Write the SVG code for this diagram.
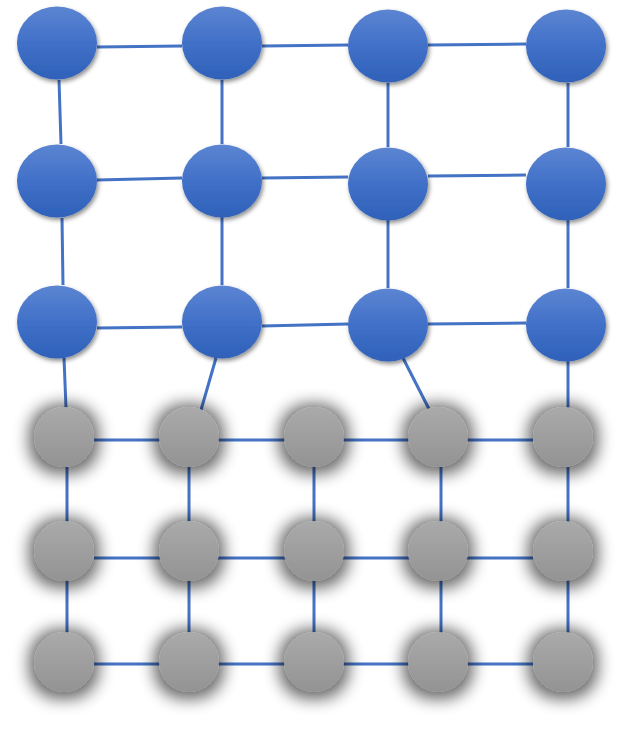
<svg xmlns="http://www.w3.org/2000/svg" width="627" height="729" viewBox="0 0 627 729">
<style>
.c{stroke:#4472c4;stroke-width:3;fill:none}
.b{fill:url(#gb);filter:url(#sb)}
.g{fill:url(#gg);filter:url(#sg)}
</style>
<defs>
<linearGradient id="gb" x1="0" y1="0" x2="0" y2="1">
<stop offset="0" stop-color="#5c85d2"/>
<stop offset="0.5" stop-color="#4170c8"/>
<stop offset="1" stop-color="#2f61b9"/>
</linearGradient>
<linearGradient id="gg" x1="0" y1="0" x2="0" y2="1">
<stop offset="0" stop-color="#aaaaaa"/>
<stop offset="1" stop-color="#939393"/>
</linearGradient>
<filter id="sb" x="-30%" y="-30%" width="160%" height="160%">
<feDropShadow dx="1.5" dy="2.5" stdDeviation="2" flood-color="#000" flood-opacity="0.45"/>
</filter>
<filter id="sg" x="-80%" y="-80%" width="260%" height="260%">
<feMorphology in="SourceAlpha" operator="dilate" radius="5" result="d"/>
<feGaussianBlur in="d" stdDeviation="8" result="bl"/>
<feOffset in="bl" dx="0" dy="2" result="o"/>
<feComponentTransfer in="o" result="s"><feFuncA type="linear" slope="0.6"/></feComponentTransfer>
<feMerge><feMergeNode in="s"/><feMergeNode in="SourceGraphic"/></feMerge>
</filter>
</defs>
<g id="connectors">
<line class="c" x1="97" y1="47" x2="182" y2="46"/>
<line class="c" x1="262" y1="46" x2="348" y2="45"/>
<line class="c" x1="428" y1="45" x2="526" y2="44"/>
<line class="c" x1="59" y1="80" x2="61" y2="144"/>
<line class="c" x1="222" y1="80" x2="222" y2="144"/>
<line class="c" x1="388" y1="83" x2="388" y2="147"/>
<line class="c" x1="568" y1="83" x2="568" y2="147"/>
<line class="c" x1="97" y1="180" x2="182" y2="178"/>
<line class="c" x1="262" y1="178" x2="348" y2="177"/>
<line class="c" x1="428" y1="176" x2="526" y2="175"/>
<line class="c" x1="62" y1="218" x2="63" y2="285"/>
<line class="c" x1="222" y1="217" x2="222" y2="285"/>
<line class="c" x1="388" y1="220" x2="388" y2="288"/>
<line class="c" x1="568" y1="220" x2="568" y2="288"/>
<line class="c" x1="97" y1="328" x2="182" y2="327"/>
<line class="c" x1="262" y1="326" x2="348" y2="324"/>
<line class="c" x1="428" y1="324" x2="526" y2="323"/>
<line class="c" x1="64" y1="358" x2="66" y2="408"/>
<line class="c" x1="216" y1="358" x2="201" y2="410"/>
<line class="c" x1="403" y1="358" x2="429" y2="409"/>
<line class="c" x1="568" y1="361" x2="568" y2="408"/>
<line class="c" x1="94" y1="440" x2="533" y2="440"/>
<line class="c" x1="94" y1="558" x2="533" y2="558"/>
<line class="c" x1="94" y1="664" x2="533" y2="664"/>
<line class="c" x1="67" y1="467" x2="67" y2="633"/>
<line class="c" x1="189" y1="467" x2="189" y2="633"/>
<line class="c" x1="314" y1="467" x2="314" y2="633"/>
<line class="c" x1="441" y1="467" x2="441" y2="633"/>
<line class="c" x1="568" y1="467" x2="568" y2="633"/>
</g>
<g id="b11"><ellipse class="b" cx="57" cy="43" rx="40" ry="36.5"/></g>
<g id="b12"><ellipse class="b" cx="222" cy="43" rx="40" ry="36.5"/></g>
<g id="b13"><ellipse class="b" cx="388" cy="46" rx="40" ry="36.5"/></g>
<g id="b14"><ellipse class="b" cx="566" cy="46" rx="40" ry="36.5"/></g>
<g id="b21"><ellipse class="b" cx="57" cy="181" rx="40" ry="36.5"/></g>
<g id="b22"><ellipse class="b" cx="222" cy="181" rx="40" ry="36.5"/></g>
<g id="b23"><ellipse class="b" cx="388" cy="184" rx="40" ry="36.5"/></g>
<g id="b24"><ellipse class="b" cx="566" cy="184" rx="40" ry="36.5"/></g>
<g id="b31"><ellipse class="b" cx="57" cy="322" rx="40" ry="36.5"/></g>
<g id="b32"><ellipse class="b" cx="222" cy="322" rx="40" ry="36.5"/></g>
<g id="b33"><ellipse class="b" cx="388" cy="325" rx="40" ry="36.5"/></g>
<g id="b34"><ellipse class="b" cx="566" cy="325" rx="40" ry="36.5"/></g>
<g id="g11"><circle class="g" cx="64" cy="437" r="30"/></g>
<g id="g12"><circle class="g" cx="189" cy="437" r="30"/></g>
<g id="g13"><circle class="g" cx="314" cy="437" r="30"/></g>
<g id="g14"><circle class="g" cx="438" cy="437" r="30"/></g>
<g id="g15"><circle class="g" cx="563" cy="437" r="30"/></g>
<g id="g21"><circle class="g" cx="64" cy="551" r="30"/></g>
<g id="g22"><circle class="g" cx="189" cy="551" r="30"/></g>
<g id="g23"><circle class="g" cx="314" cy="551" r="30"/></g>
<g id="g24"><circle class="g" cx="438" cy="551" r="30"/></g>
<g id="g25"><circle class="g" cx="563" cy="551" r="30"/></g>
<g id="g31"><circle class="g" cx="64" cy="662" r="30"/></g>
<g id="g32"><circle class="g" cx="189" cy="662" r="30"/></g>
<g id="g33"><circle class="g" cx="314" cy="662" r="30"/></g>
<g id="g34"><circle class="g" cx="438" cy="662" r="30"/></g>
<g id="g35"><circle class="g" cx="563" cy="662" r="30"/></g>
</svg>
